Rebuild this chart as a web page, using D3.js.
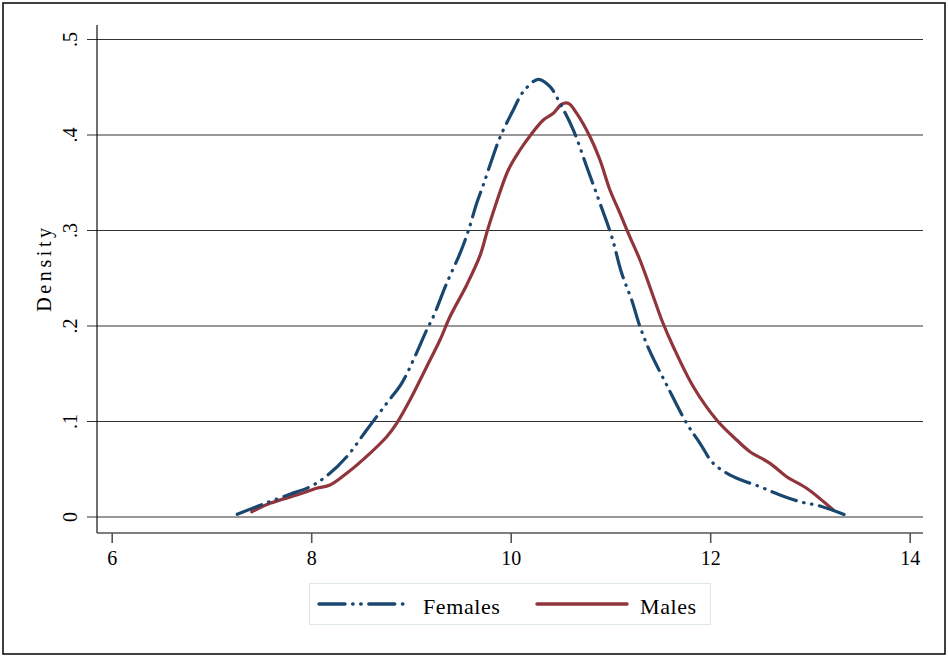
<!DOCTYPE html>
<html>
<head>
<meta charset="utf-8">
<script src="https://cdn.jsdelivr.net/npm/d3@7"></script>
<style>
  html, body { margin: 0; padding: 0; background: #fff; }
  svg { display: block; }
  text { font-family: "Liberation Serif", "Times New Roman", serif; fill: #000; }
</style>
</head>
<body>
<svg id="chart" width="948" height="656"></svg>
<script>
// Kernel density estimates (x = value, d = density)
const femalesX = [7.259, 7.520, 7.787, 7.988, 8.155, 8.356, 8.556, 8.757, 8.907, 9.024, 9.158, 9.224, 9.358, 9.492, 9.575, 9.659, 9.725, 9.810, 9.893, 10.026, 10.126, 10.277, 10.394, 10.494, 10.628, 10.762, 10.895, 11.013, 11.113, 11.213, 11.296, 11.397, 11.564, 11.764, 11.898, 12.031, 12.232, 12.499, 12.700, 12.900, 13.101, 13.385];
const femalesD = [0.0028, 0.0136, 0.0238, 0.0317, 0.0429, 0.0631, 0.0911, 0.1191, 0.1400, 0.1644, 0.1958, 0.2097, 0.2447, 0.2761, 0.2995, 0.3285, 0.3476, 0.3738, 0.3976, 0.4262, 0.4453, 0.4583, 0.4506, 0.4332, 0.4052, 0.3668, 0.3285, 0.2935, 0.2552, 0.2272, 0.1993, 0.1731, 0.1382, 0.0981, 0.0772, 0.0562, 0.0422, 0.0317, 0.0230, 0.0160, 0.0115, 0.0010];

const malesX = [7.404, 7.587, 7.855, 8.055, 8.188, 8.356, 8.589, 8.757, 8.857, 8.990, 9.158, 9.291, 9.391, 9.559, 9.695, 9.765, 9.843, 9.976, 10.093, 10.193, 10.327, 10.427, 10.511, 10.577, 10.662, 10.795, 10.895, 10.995, 11.096, 11.179, 11.296, 11.430, 11.514, 11.630, 11.831, 12.065, 12.266, 12.399, 12.600, 12.767, 12.967, 13.234];
const malesD = [0.0055, 0.0143, 0.0230, 0.0301, 0.0335, 0.0458, 0.0667, 0.0841, 0.0981, 0.1225, 0.1574, 0.1853, 0.2097, 0.2430, 0.2745, 0.2995, 0.3249, 0.3634, 0.3843, 0.3990, 0.4157, 0.4227, 0.4322, 0.4332, 0.4227, 0.3982, 0.3738, 0.3424, 0.3180, 0.2971, 0.2691, 0.2307, 0.2063, 0.1783, 0.1364, 0.1016, 0.0806, 0.0684, 0.0562, 0.0422, 0.0301, 0.0073];

const xTicks = [6, 8, 10, 12, 14];
const yTicks = [0, 0.1, 0.2, 0.3, 0.4, 0.5];
const yTickLabels = ["0", ".1", ".2", ".3", ".4", ".5"];
const seriesNames = ["Females", "Males"];
const yTitle = "Density";

const navy = "#1a476f";
const maroon = "#90353b";
const femaleDash = "26,7.6,0.5,7.6,0.5,7.6";

const svg = d3.select("#chart");

// Outer frame
svg.append("rect")
  .attr("x", 3).attr("y", 3).attr("width", 942).attr("height", 651)
  .attr("fill", "#fff").attr("stroke", "#111").attr("stroke-width", 1.6);

const x = d3.scaleLinear().domain([6, 14]).range([111.7, 909.7]);
const y = d3.scaleLinear().domain([0, 0.5]).range([517, 39.5]);

const plotLeft = 97, plotRight = 923, plotTop = 25, plotBottom = 533;

// Horizontal grid lines (extend left as the y ticks)
svg.append("g").selectAll("line")
  .data(yTicks).join("line")
  .attr("x1", 87).attr("x2", plotRight)
  .attr("y1", d => y(d)).attr("y2", d => y(d))
  .attr("stroke", "#333").attr("stroke-width", 1.2);

// Y axis line
svg.append("line")
  .attr("x1", plotLeft).attr("x2", plotLeft)
  .attr("y1", plotTop).attr("y2", plotBottom)
  .attr("stroke", "#111").attr("stroke-width", 1.2);

// X axis
const xAxis = d3.axisBottom(x).tickValues(xTicks).tickSize(10).tickPadding(8).tickFormat(d3.format("d"));
const gx = svg.append("g").attr("transform", `translate(0,${plotBottom})`).call(xAxis);
gx.select(".domain").remove();
gx.append("line").attr("x1", plotLeft).attr("x2", plotRight).attr("y1", 0).attr("y2", 0)
  .attr("stroke", "#555").attr("stroke-width", 1.6);
gx.selectAll(".tick line").attr("stroke", "#555").attr("stroke-width", 1.6);
gx.selectAll(".tick text")
  .attr("font-family", "Liberation Serif, serif")
  .attr("font-size", 20).attr("fill", "#000").attr("dy", "0.71em");

// Y tick labels, rotated
svg.append("g").selectAll("text")
  .data(yTicks).join("text")
  .attr("transform", d => `translate(77,${y(d)}) rotate(-90)`)
  .attr("text-anchor", "middle")
  .attr("font-size", 20)
  .text((d, i) => yTickLabels[i]);

// Y axis title
svg.append("text")
  .attr("transform", "translate(51,268) rotate(-90)")
  .attr("text-anchor", "middle")
  .attr("font-size", 20)
  .attr("letter-spacing", "3.6px")
  .text(yTitle);

// Density curves
const line = d3.line()
  .x(d => x(d[0])).y(d => y(d[1]))
  .curve(d3.curveCatmullRom.alpha(0.5));

const females = femalesX.map((v, i) => [v, femalesD[i]]);
const males = malesX.map((v, i) => [v, malesD[i]]);

svg.append("path").datum(males)
  .attr("d", line).attr("fill", "none")
  .attr("stroke", maroon).attr("stroke-width", 3.2)
  .attr("stroke-linejoin", "round").attr("stroke-linecap", "round");

svg.append("path").datum(females)
  .attr("d", line).attr("fill", "none")
  .attr("stroke", navy).attr("stroke-width", 3.2)
  .attr("stroke-dasharray", femaleDash)
  .attr("stroke-linejoin", "round").attr("stroke-linecap", "round");

// Legend
const legend = svg.append("g");
legend.append("rect")
  .attr("x", 309.5).attr("y", 583.5).attr("width", 401).attr("height", 41)
  .attr("fill", "#fff").attr("stroke", "#dfe8e8").attr("stroke-width", 1);

const legendItems = [
  { name: seriesNames[0], color: navy, dash: femaleDash, x1: 319, x2: 404, tx: 423 },
  { name: seriesNames[1], color: maroon, dash: null, x1: 537, x2: 627, tx: 640 }
];
legendItems.forEach(it => {
  legend.append("line")
    .attr("x1", it.x1).attr("x2", it.x2).attr("y1", 604).attr("y2", 604)
    .attr("stroke", it.color).attr("stroke-width", 3.4)
    .attr("stroke-linecap", "round")
    .attr("stroke-dasharray", it.dash);
  legend.append("text")
    .attr("x", it.tx).attr("y", 614)
    .attr("font-size", 22).attr("letter-spacing", "0.6px")
    .text(it.name);
});
</script>
</body>
</html>
